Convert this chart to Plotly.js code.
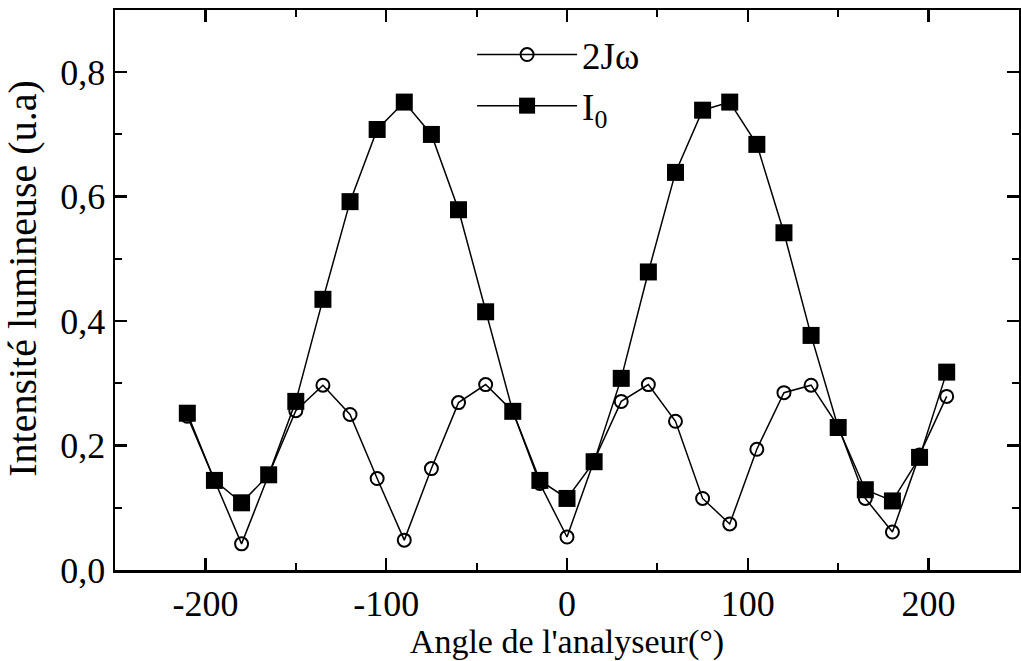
<!DOCTYPE html>
<html>
<head>
<meta charset="utf-8">
<script src="https://cdn.plot.ly/plotly-3.0.1.min.js"></script>
<style>html,body{margin:0;padding:0;background:#fff;}#chart{width:1021px;height:661px;}</style>
</head>
<body>
<div id="chart"></div>
<script>
const angles = [-210,-195,-180,-165,-150,-135,-120,-105,-90,-75,-60,-45,-30,-15,0,15,30,45,60,75,90,105,120,135,150,165,180,195,210];
const j2w = [0.247,0.144,0.042,0.153,0.256,0.297,0.250,0.147,0.048,0.163,0.269,0.298,0.255,0.139,0.053,0.176,0.271,0.298,0.239,0.115,0.074,0.194,0.285,0.297,0.231,0.115,0.061,0.185,0.279];
const i0 = [0.252,0.144,0.108,0.153,0.271,0.435,0.592,0.708,0.752,0.700,0.579,0.415,0.255,0.144,0.115,0.174,0.308,0.479,0.639,0.739,0.752,0.684,0.542,0.377,0.229,0.129,0.111,0.181,0.318];
const xTickVals = [-200,-100,0,100,200];
const xTickText = ["-200","-100","0","100","200"];
const yTickVals = [0,0.2,0.4,0.6,0.8];
const yTickText = ["0,0","0,2","0,4","0,6","0,8"];
const yTitle = "Intensité lumineuse (u.a)";
const xTitle = "Angle de l'analyseur(°)";

const font = {family: "Liberation Serif", color: "#000"};

const traces = [
  {x: angles, y: j2w, name: "2Jω", legendgroup: "a", mode: "lines+markers", type: "scatter",
   line: {color: "#000", width: 1.5},
   marker: {symbol: "circle-open", size: 13, color: "#000", line: {width: 2, color: "#000"}}},
  {x: angles, y: i0, name: "I<sub>0</sub>", legendgroup: "b", mode: "lines+markers", type: "scatter",
   line: {color: "#000", width: 1.5},
   marker: {symbol: "square", size: 17, color: "#000"}}
];

const layout = {
  width: 1021, height: 661,
  margin: {l: 115, r: 2, t: 10, b: 91},
  paper_bgcolor: "#fff", plot_bgcolor: "#fff",
  showlegend: true,
  legend: {x: 0.395, y: 0.975, xanchor: "left", yanchor: "top", bgcolor: "rgba(0,0,0,0)",
           traceorder: "grouped", tracegroupgap: 0,
           font: Object.assign({}, font, {size: 37}), itemwidth: 100},
  xaxis: {range: [-250, 250], tickvals: xTickVals, ticktext: xTickText,
          showline: true, mirror: "ticks", linecolor: "#000", linewidth: 2.5,
          ticks: "inside", ticklen: 12, tickwidth: 2.5, tickcolor: "#000",
          minor: {ticks: "inside", ticklen: 7, tickwidth: 2, tickcolor: "#000", dtick: 50, tick0: 0},
          showgrid: false, zeroline: false,
          tickfont: Object.assign({}, font, {size: 36}),
          title: {text: xTitle, font: Object.assign({}, font, {size: 34}), standoff: 2}},
  yaxis: {range: [0, 0.9], tickvals: yTickVals, ticktext: yTickText,
          showline: true, mirror: "ticks", linecolor: "#000", linewidth: 2.5,
          ticks: "inside", ticklen: 12, tickwidth: 2.5, tickcolor: "#000",
          minor: {ticks: "inside", ticklen: 7, tickwidth: 2, tickcolor: "#000", dtick: 0.1, tick0: 0},
          showgrid: false, zeroline: false,
          tickfont: Object.assign({}, font, {size: 36})},
  annotations: [
    {text: yTitle, xref: "paper", yref: "paper", x: 0, y: 0.52, xanchor: "center", yanchor: "middle",
     xshift: -92, textangle: -90, showarrow: false, font: Object.assign({}, font, {size: 40})}
  ]
};

Plotly.newPlot("chart", traces, layout, {displayModeBar: false, staticPlot: true});
</script>
</body>
</html>
